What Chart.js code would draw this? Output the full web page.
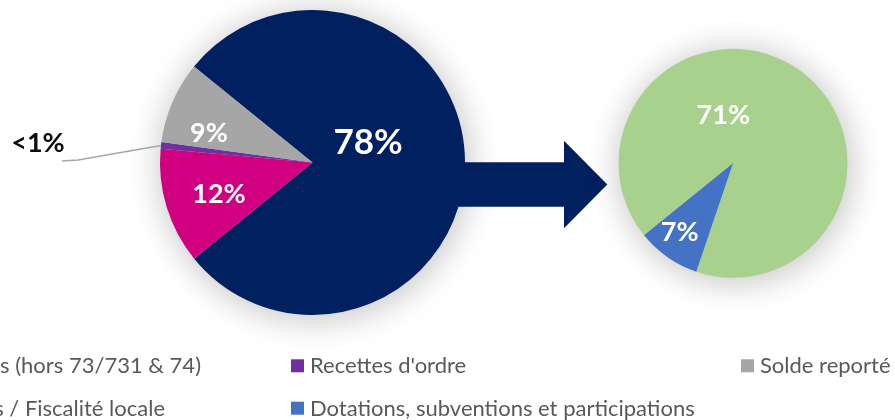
<!DOCTYPE html>
<html><head><meta charset="utf-8">
<script src="https://cdn.jsdelivr.net/npm/chart.js@4.4.1/dist/chart.umd.min.js"></script>
<style>
html,body{margin:0;padding:0;background:#fff;overflow:hidden;}
#wrap{position:relative;width:895px;height:420px;}
canvas{position:absolute;left:0;top:0;}
</style></head><body>
<div id="wrap"><canvas id="c1" width="895" height="420"></canvas><canvas id="c2" width="895" height="420"></canvas></div>
<script>
// ---- data ----
const mainCategories = ['Chapitres 73/731 & 74', 'Autres recettes (hors 73/731 & 74)', "Recettes d'ordre", 'Solde reporté'];
const mainValues = [78.3, 12.3, 0.7, 8.7];
const detailCategories = ['Impôts et taxes / Fiscalité locale', 'Dotations, subventions et participations'];
const detailValues = [71, 7];
const legendLabels = ['Autres recettes (hors 73/731 & 74)', "Recettes d'ordre", 'Solde reporté', 'Impôts et taxes / Fiscalité locale', 'Dotations, subventions et participations'];

// ---- styles ----
const mainColors = ['#002060', '#D00080', '#7030A0', '#A6A6A6'];
const detailColors = ['#A9D18E', '#4472C4'];
const mainLabelShift = [-19.3, -1.6, null, -7.4];
const mainLabelFrac = [0.386, 0.647, null, 0.706];
const mainLabelSize = [35, 27, 27, 27];
const detailLabelShift = [-46.2, 2.9];
const detailLabelFrac = [0.43, 0.76];
const FONT = 'Lato, "Open Sans", sans-serif';

function pct(v){ return v < 1 ? '<1%' : Math.round(v) + '%'; }

const shadowPlugin = {
  id: 'pieShadow',
  beforeDatasetsDraw(chart) {
    const a = chart.getDatasetMeta(0).data[0];
    const ctx = chart.ctx;
    const far = 3000;
    ctx.save();
    ctx.shadowColor = 'rgba(0,0,0,0.2)';
    ctx.shadowBlur = 30;
    ctx.shadowOffsetX = far + 2;
    ctx.shadowOffsetY = 3;
    ctx.beginPath();
    ctx.arc(a.x - far, a.y, a.outerRadius + 5, 0, Math.PI * 2);
    ctx.fillStyle = '#000';
    ctx.fill();
    ctx.restore();
  }
};

const arrowPlugin = {
  id: 'arrow',
  beforeDatasetsDraw(chart) {
    const ctx = chart.ctx;
    ctx.save();
    ctx.fillStyle = '#002060';
    ctx.beginPath();
    ctx.moveTo(400, 162.3);
    ctx.lineTo(564, 162.3);
    ctx.lineTo(564, 140.7);
    ctx.lineTo(607.3, 184.5);
    ctx.lineTo(564, 228.3);
    ctx.lineTo(564, 206.7);
    ctx.lineTo(400, 206.7);
    ctx.closePath();
    ctx.fill();
    ctx.restore();
  }
};

function makeLabelPlugin(shift, frac, sizes) {
  return {
    id: 'sliceLabels',
    afterDatasetsDraw(chart) {
      const ctx = chart.ctx;
      const meta = chart.getDatasetMeta(0);
      const vals = chart.data.datasets[0].data;
      meta.data.forEach((arc, i) => {
        const mid = (arc.startAngle + arc.endAngle) / 2;
        ctx.save();
        ctx.textAlign = 'center';
        ctx.textBaseline = 'middle';
        if (shift[i] === null) {
          const ex = arc.x + arc.outerRadius * Math.cos(mid);
          const ey = arc.y + arc.outerRadius * Math.sin(mid);
          ctx.strokeStyle = '#A6A6A6';
          ctx.lineWidth = 1.5;
          ctx.beginPath();
          ctx.moveTo(ex, ey);
          ctx.lineTo(ex - 83, ey + 14.5);
          ctx.lineTo(ex - 99, ey + 15.5);
          ctx.stroke();
          ctx.fillStyle = '#0D0D0D';
          ctx.font = 'bold ' + sizes[i] + 'px ' + FONT;
          ctx.fillText(pct(vals[i]), ex - 123, ey - 2.5);
        } else {
          const ang = mid + shift[i] * Math.PI / 180;
          const r = arc.outerRadius * frac[i];
          ctx.fillStyle = '#FFFFFF';
          ctx.font = 'bold ' + sizes[i] + 'px ' + FONT;
          ctx.fillText(pct(vals[i]), arc.x + r * Math.cos(ang), arc.y + r * Math.sin(ang));
        }
        ctx.restore();
      });
    }
  };
}

const legendPlugin = {
  id: 'customLegend',
  afterDraw(chart) {
    const ctx = chart.ctx;
    const colorOf = {};
    mainCategories.forEach((c, i) => colorOf[c] = mainColors[i]);
    detailCategories.forEach((c, i) => colorOf[c] = detailColors[i]);
    const colX = [-159, 291, 741];
    const rowBase = [373.3, 415.7];
    const firstColEnd = [201, 165];
    ctx.save();
    ctx.font = '22px ' + FONT;
    ctx.textBaseline = 'alphabetic';
    legendLabels.forEach((lab, k) => {
      const col = k % 3, row = Math.floor(k / 3);
      const base = rowBase[row];
      ctx.fillStyle = colorOf[lab];
      if (col === 0) {
        const w = ctx.measureText(lab).width;
        const tx = firstColEnd[row] - w;
        ctx.fillRect(tx - 19, base - 14, 13, 13);
        ctx.fillStyle = '#595959';
        ctx.textAlign = 'left';
        ctx.fillText(lab, tx, base);
      } else {
        ctx.fillRect(colX[col], base - 14, 13, 13);
        ctx.fillStyle = '#595959';
        ctx.textAlign = 'left';
        ctx.fillText(lab, colX[col] + 19, base);
      }
    });
    ctx.restore();
  }
};

const commonOpts = {
  responsive: false,
  animation: false,
  events: [],
  plugins: { legend: { display: false }, tooltip: { enabled: false } }
};

new Chart(document.getElementById('c1'), {
  type: 'pie',
  data: { labels: mainCategories, datasets: [{ data: mainValues, backgroundColor: mainColors, borderWidth: 0, hoverOffset: 0 }] },
  options: Object.assign({}, commonOpts, {
    rotation: 309,
    layout: { padding: { left: 160, right: 430, top: 10, bottom: 105 } }
  }),
  plugins: [shadowPlugin, arrowPlugin, makeLabelPlugin(mainLabelShift, mainLabelFrac, mainLabelSize), legendPlugin]
});

new Chart(document.getElementById('c2'), {
  type: 'pie',
  data: { labels: detailCategories, datasets: [{ data: detailValues, backgroundColor: detailColors, borderWidth: 0, hoverOffset: 0 }] },
  options: Object.assign({}, commonOpts, {
    rotation: 231,
    layout: { padding: { left: 618.5, right: 47.5, top: 48.8, bottom: 142.2 } }
  }),
  plugins: [shadowPlugin, makeLabelPlugin(detailLabelShift, detailLabelFrac, [27, 27])]
});
</script>
</body></html>
